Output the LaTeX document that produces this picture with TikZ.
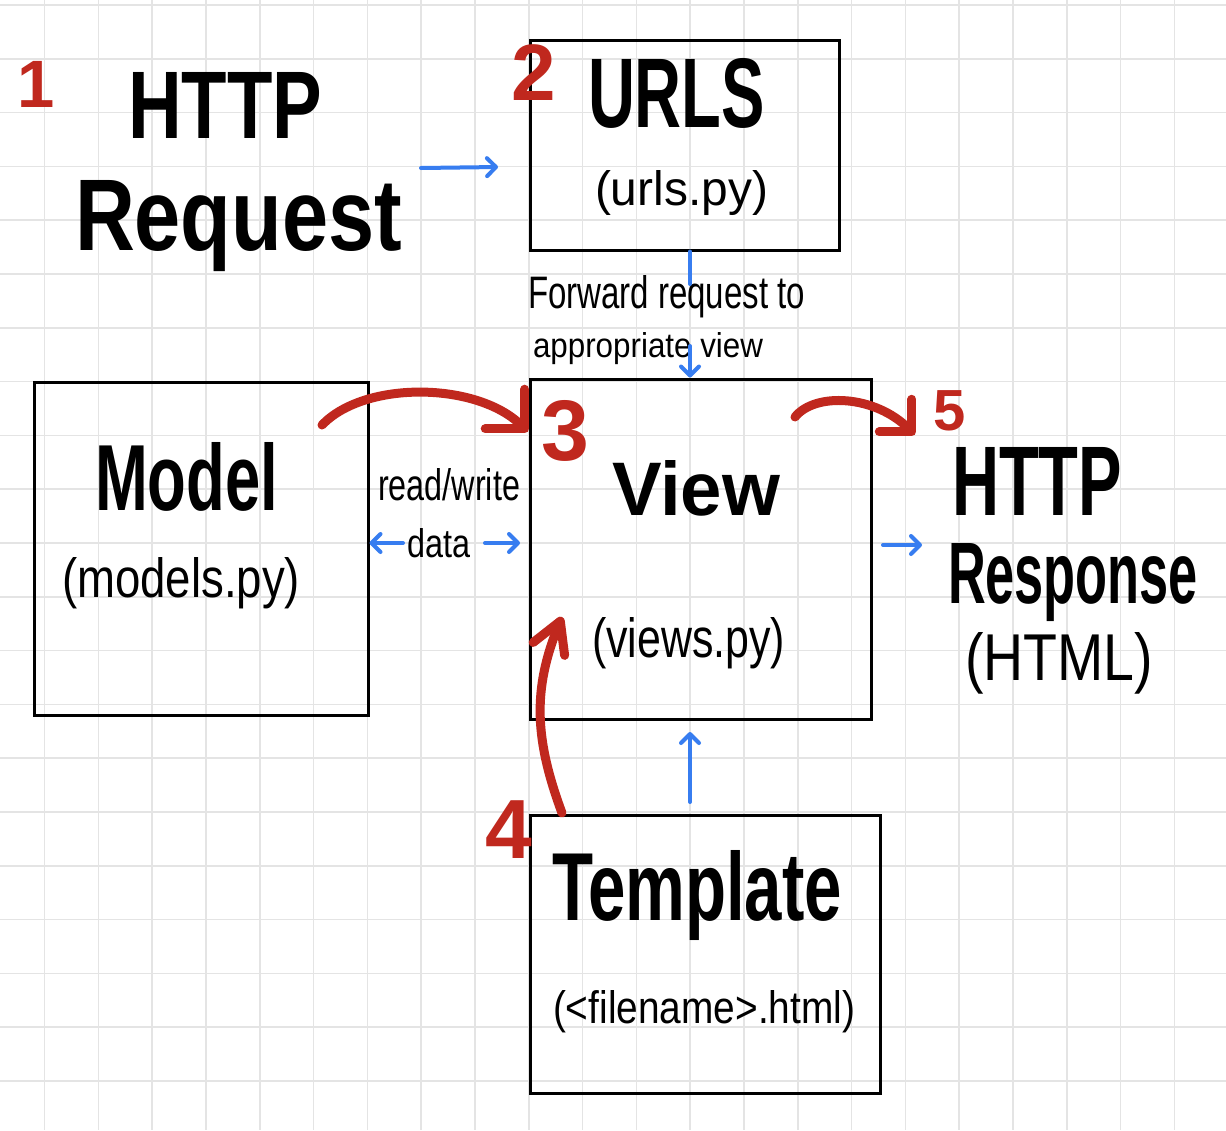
\documentclass[tikz,border=0pt]{standalone}
\usepackage{fontspec}
\setmainfont{Liberation Sans}
\usetikzlibrary{arrows.meta}
\definecolor{gridc}{RGB}{228,228,228}
\definecolor{redpen}{RGB}{192,40,30}
\definecolor{bluepen}{RGB}{55,125,240}
\newcommand\fitt[3]{\resizebox{#1pt}{#2pt}{#3}}
\begin{document}
\begin{tikzpicture}[x=1pt,y=-1pt,
  gridline/.style={gridc, line width=1.6pt},
  box/.style={draw=black, line width=3pt, inner sep=0pt},
  lbl/.style={anchor=base west, inner sep=0pt, outer sep=0pt},
  big/.style={lbl, font=\bfseries},
  num/.style={text=redpen, inner sep=0pt},
  redpenline/.style={redpen, line width=9pt, line cap=round, line join=round},
  bluearrow/.style={bluepen, line width=4pt, line cap=round, -{Straight Barb[length=9pt,width=18pt,round]}},
  blueline/.style={bluepen, line width=4pt, line cap=round},
]
\useasboundingbox (0,0) rectangle (1226,1130);
\fill[white] (0,0) rectangle (1226,1130);
\foreach \i in {0,...,21} {\draw[gridline] ({44.5+53.8*\i},0) -- ({44.5+53.8*\i},1130);}
\foreach \j in {0,...,20} {\draw[gridline] (0,{5+53.8*\j}) -- (1226,{5+53.8*\j});}

% boxes
\node[box, minimum width=309pt, minimum height=210pt] (urls) at (684.5,145) {};
\node[box, minimum width=334pt, minimum height=333pt] (model) at (201,548.5) {};
\node[box, minimum width=341pt, minimum height=340pt] (view) at (700.5,549) {};
\node[box, minimum width=350pt, minimum height=278pt] (tmpl) at (705,954) {};

% texts
\node[big] (http1) at (128,138) {\fitt{194}{66}{HTTP}};
\node[big] (req) at (75,250) {\fitt{327}{70}{Request}};
\node[big] (urlst) at (588,127) {\fitt{177}{69}{URLS}};
\node[lbl] (urlsf) at (595,205) {\fitt{173}{35}{(urls.py)}};
\node[lbl] (fwd1) at (528,308) {\fitt{277}{33}{Forward request to}};
\node[lbl] (fwd2) at (533,357) {\fitt{230}{25}{appropriate view}};
\node[big] (modelt) at (95,510) {\fitt{183}{68}{Model}};
\node[lbl] (modelf) at (62,597) {\fitt{238}{40}{(models.py)}};
\node[lbl] (rw) at (378,500) {\fitt{142}{32}{read/write}};
\node[lbl] (data) at (407,557) {\fitt{63}{29}{data}};
\node[big] (viewt) at (612,515) {\fitt{168}{55}{View}};
\node[lbl] (viewf) at (592,657) {\fitt{193}{40}{(views.py)}};
\node[big] (http2) at (952,515) {\fitt{170}{68}{HTTP}};
\node[big] (resp) at (948,603) {\fitt{250}{60}{Response}};
\node[lbl] (html) at (965,680) {\fitt{188}{48}{(HTML)}};
\node[big] (tmplt) at (552,920) {\fitt{290}{70}{Template}};
\node[lbl] (tmplf) at (553,1023) {\fitt{302}{33}{(<filename>.html)}};

% red numbers
\node[num, font=\fontsize{67}{67}\selectfont\bfseries] (n1) at (36,84) {1};
\node[num, font=\fontsize{80}{80}\selectfont\bfseries] (n2) at (534,73) {2};
\node[num, font=\fontsize{86}{86}\selectfont\bfseries] (n3) at (565,431) {3};
\node[num, font=\fontsize{84}{84}\selectfont\bfseries] (n4) at (509,830) {4};
\node[num, font=\fontsize{58}{58}\selectfont\bfseries] (n5) at (950,411) {5};

% blue connectors
\coordinate (a1s) at (421,168);
\coordinate (a1e) at (498,167);
\draw[bluearrow] (a1s) -- (a1e);
\coordinate (fwdtop) at (690,284);
\coordinate (fwdbot) at (690,346);
\draw[blueline] (urls.south -| fwdtop) -- (fwdtop);
\draw[bluearrow] (fwdbot) -- (fwdbot |- view.north);
\coordinate (dl) at (403,543);
\coordinate (dr) at (485,543);
\coordinate (drend) at (520,543);
\draw[bluearrow] (dl) -- (model.east |- dl);
\draw[bluearrow] (dr) -- (drend);
\coordinate (rs) at (883,545);
\coordinate (re) at (922,545);
\draw[bluearrow] (rs) -- (re);
\coordinate (ts) at (690,802);
\coordinate (te) at (690,732);
\draw[bluearrow] (ts) -- (te);

% red connectors
\coordinate (r3s) at (322,425);
\coordinate (r3e) at (528,432);
\draw[redpenline, -{Straight Barb[length=28pt,width=56pt,round]}] (r3s) .. controls (365,380) and (478,382) .. (r3e);
\coordinate (r5s) at (795,417);
\coordinate (r5e) at (915,435);
\draw[redpenline, -{Straight Barb[length=23pt,width=46pt,round]}] (r5s) .. controls (815,392) and (875,395) .. (r5e);
\coordinate (r4s) at (562,813);
\coordinate (r4e) at (562,617);
\draw[redpenline, -{Straight Barb[length=30pt,width=34pt,round]}] (r4s) .. controls (535,740) and (532,690) .. (r4e);
\end{tikzpicture}
\end{document}
